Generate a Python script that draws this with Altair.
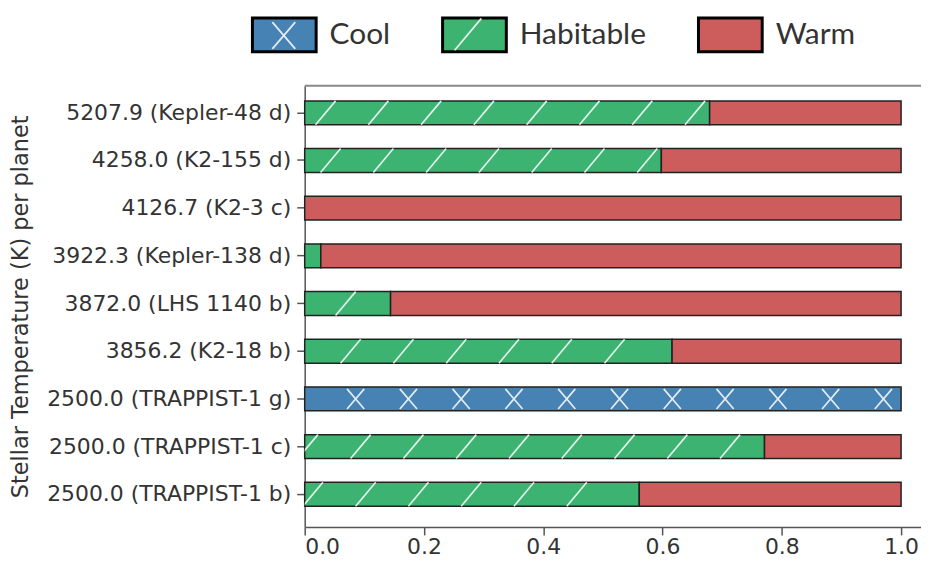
import altair as alt
import pandas as pd
import numpy as np

planets = [
    "5207.9 (Kepler-48 d)",
    "4258.0 (K2-155 d)",
    "4126.7 (K2-3 c)",
    "3922.3 (Kepler-138 d)",
    "3872.0 (LHS 1140 b)",
    "3856.2 (K2-18 b)",
    "2500.0 (TRAPPIST-1 g)",
    "2500.0 (TRAPPIST-1 c)",
    "2500.0 (TRAPPIST-1 b)",
]
cool = [0.0, 0.0, 0.0, 0.0, 0.0, 0.0, 1.0, 0.0, 0.0]
habitable = [0.679, 0.598, 0.0, 0.027, 0.144, 0.616, 0.0, 0.771, 0.561]
warm = [0.321, 0.402, 1.0, 0.973, 0.856, 0.384, 0.0, 0.229, 0.439]

categories = ["Cool", "Habitable", "Warm"]
hatches = ["x", "/", "none"]
colors = ["#4682b4", "#3cb371", "#cd5c5c"]
x_ticks = [0.0, 0.2, 0.4, 0.6, 0.8, 1.0]

W, H = 619, 443

# stacked segments
rows = []
for i, p in enumerate(planets):
    for k, (cat, vals) in enumerate(zip(categories, [cool, habitable, warm])):
        if vals[i] > 0:
            rows.append({"planet": p, "category": cat, "order": k, "value": vals[i]})
bars_df = pd.DataFrame(rows)

# hatch glyph positions derived from the segments (matplotlib-like diagonal grid)
spacing = 0.0885
row_shift = 0.0801
phase0 = 0.035
half = 0.018
hatch_rows = []
for i, p in enumerate(planets):
    for hatch, vals in (("x", cool), ("/", habitable)):
        end = vals[i]
        if end <= 0:
            continue
        ph = (phase0 - i * row_shift) % spacing
        for c in np.arange(ph, end, spacing):
            if c + half <= end:
                hatch_rows.append({"planet": p, "hatch": hatch, "pos": float(c)})
hatch_df = pd.DataFrame(hatch_rows)

x_scale = alt.Scale(domain=[0, 1.0334], nice=False, zero=True)
y_scale = alt.Scale(domain=planets, paddingInner=0.5, paddingOuter=0.375, align=0.42)

bars = alt.Chart(bars_df).mark_bar(stroke="#222", strokeWidth=1.5, opacity=1).encode(
    x=alt.X("value:Q", stack="zero", scale=x_scale,
            axis=alt.Axis(values=x_ticks, format=".1f", title=None, grid=False, labelPadding=2)),
    y=alt.Y("planet:N", sort=planets, scale=y_scale,
            axis=alt.Axis(title="Stellar Temperature (K) per planet", grid=False,
                          labelPadding=6, labelLimit=400,
                          titleX=-285, titleY=H / 2, titleAngle=270,
                          titleAlign="center", titleBaseline="middle")),
    color=alt.Color("category:N", scale=alt.Scale(domain=categories, range=colors),
                    legend=alt.Legend(title=None, symbolType="M-1,-0.53H1V0.53H-1Z",
                                      symbolStrokeColor="black", symbolStrokeWidth=3)),
    order=alt.Order("order:Q"),
)

slash_path = "M-0.42,0.5L0.42,-0.5"
cross_path = "M-0.36,0.42L0.36,-0.42M-0.36,-0.42L0.36,0.42"

hatch_layer = alt.Chart(hatch_df).mark_point(
    size=2304, filled=False, stroke="white", strokeWidth=1.7,
    opacity=0.85, clip=True,
).encode(
    x=alt.X("pos:Q", scale=x_scale),
    y=alt.Y("planet:N", sort=planets, scale=y_scale),
    shape=alt.Shape("hatch:N", scale=alt.Scale(domain=hatches, range=[cross_path, slash_path, "M0,0"]),
                    legend=alt.Legend(title=None, symbolStrokeColor="white", symbolStrokeWidth=1.8,
                                      symbolFillColor="transparent", labelColor="transparent",
                                      symbolOpacity=0.85, symbolSize=4096,
                                      labelExpr="datum.label == 'x' ? 'Cool' : datum.label == '/' ? 'Habitable' : 'Warm'")),
)

top_spine = alt.Chart(pd.DataFrame({"a": [0]})).mark_rule(color="#888", strokeWidth=2).encode(
    x=alt.value(0), x2=alt.value(W), y=alt.value(0)
)

chart = alt.layer(bars, hatch_layer, top_spine).resolve_legend(
    color="independent", shape="independent"
).properties(
    width=W, height=H,
    autosize=alt.AutoSizeParams(type="none"),
    padding={"left": 298, "top": 77, "right": 0, "bottom": 32},
).configure_view(stroke=None).configure_axis(
    labelFont="DejaVu Sans", labelFontSize=22, labelColor="#333",
    titleFont="DejaVu Sans", titleFontSize=22.5, titleColor="#333", titleFontWeight="normal",
    domainColor="#555", domainWidth=1.5, tickColor="#555", tickWidth=1.5, tickSize=8,
).configure_legend(
    orient="none", legendX=-54, legendY=-85, direction="horizontal",
    symbolSize=4096, symbolOpacity=1,
    labelFont="Lato", labelFontSize=30, labelColor="#333", labelOffset=12,
    columnPadding=46,
)

chart.save("out.html", embed_options={"renderer": "svg", "actions": False})
